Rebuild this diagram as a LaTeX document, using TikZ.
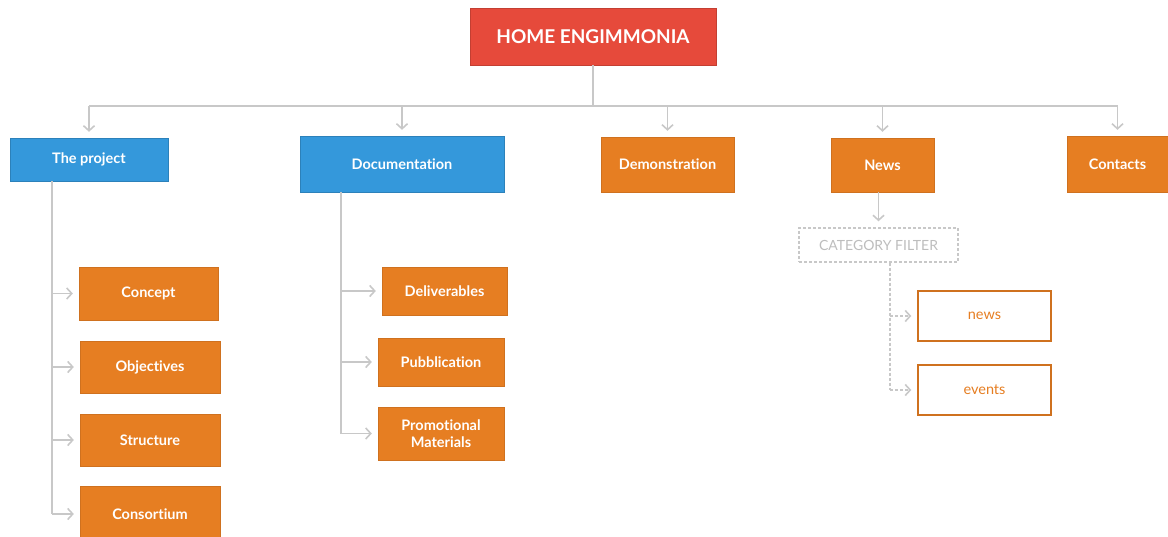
\documentclass[tikz,border=0pt]{standalone}
\usepackage{fontspec}
\setmainfont{Lato}[Ligatures=NoCommon]
\usetikzlibrary{arrows.meta}

\definecolor{homered}{HTML}{E64A3B}
\definecolor{pageblue}{HTML}{3498DB}
\definecolor{pageorange}{HTML}{E67E22}
\definecolor{linegray}{HTML}{C8C8C8}
\definecolor{filtergray}{HTML}{BDBDBD}

\begin{document}
\begin{tikzpicture}[x=1pt, y=-1pt,
    line/.style={draw=linegray, line width=1.6pt},
    link/.style={line, -{Straight Barb[length=5pt,width=11pt]}, shorten >=6pt},
    dashlink/.style={link, dashed, dash pattern=on 3pt off 2pt},
    box/.style={inner sep=0pt, align=center, text=white,
      font=\bfseries\fontsize{14.5}{16.5}\selectfont},
    bluebox/.style={box, fill=pageblue, draw=pageblue!85!black},
    orangebox/.style={box, fill=pageorange, draw=pageorange!90!black},
    outlinebox/.style={box, fill=white, draw=pageorange!90!black, line width=1.4pt,
      text=pageorange, font=\fontsize{14.5}{16.5}\selectfont}]

  \useasboundingbox (0,0) rectangle (1168,537);

  % Home page
  \node[box, fill=homered, draw=homered!85!black, minimum width=246pt, minimum height=57pt,
    font=\bfseries\fontsize{19}{22}\selectfont] (home) at (593,36.5) {HOME ENGIMMONIA};

  % Main menu
  \node[bluebox, minimum width=158pt, minimum height=43pt] (project) at (89,159.5) {The project};
  \node[bluebox, minimum width=204pt, minimum height=56pt] (docs) at (402,164) {Documentation};
  \node[orangebox, minimum width=133pt, minimum height=55pt] (demo) at (667.5,164.5) {Demonstration};
  \node[orangebox, minimum width=103pt, minimum height=54pt] (news) at (882.5,165) {News};
  \node[orangebox, minimum width=101pt, minimum height=56pt] (contacts) at (1117.5,164) {Contacts};

  \coordinate (bus) at (593,106);
  \draw[line] (home.south) -- (bus);
  \draw[line] (project.north |- bus) -- (contacts.north |- bus);
  \foreach \n in {project,docs,demo,news,contacts}
    \draw[link] (\n.north |- bus) -- (\n.north);

  % The project pages
  \node[orangebox, minimum width=139pt, minimum height=53pt] (concept) at (148.5,293.5) {Concept};
  \node[orangebox, minimum width=140pt, minimum height=52pt] (objectives) at (150,367) {Objectives};
  \node[orangebox, minimum width=140pt, minimum height=52pt] (structure) at (150,440) {Structure};
  \node[orangebox, minimum width=140pt, minimum height=56pt] (consortium) at (150,514) {Consortium};

  \coordinate (ptrunk) at (52,0);
  \draw[line] (project.south -| ptrunk) -- (consortium.west -| ptrunk);
  \foreach \n in {concept,objectives,structure,consortium}
    \draw[link] (\n.west -| ptrunk) -- (\n.west);

  % Documentation pages
  \node[orangebox, minimum width=125pt, minimum height=48pt] (deliv) at (444.5,291) {Deliverables};
  \node[orangebox, minimum width=126pt, minimum height=48pt] (pubb) at (441,362) {Pubblication};
  \node[orangebox, minimum width=126pt, minimum height=53pt] (promo) at (441,433.5) {Promotional\\Materials};

  \coordinate (dtrunk) at (341,0);
  \draw[line] (docs.south -| dtrunk) -- (promo.west -| dtrunk);
  \foreach \n in {deliv,pubb,promo}
    \draw[link] (\n.west -| dtrunk) -- (\n.west);

  % News filter
  \node[box, draw=linegray, line width=1.4pt, dash pattern=on 3pt off 2pt, text=filtergray,
    font=\fontsize{14}{16}\selectfont, minimum width=159pt, minimum height=34pt]
    (filter) at (878.5,245) {CATEGORY FILTER};
  \draw[link] (news.south -| filter.north) -- (filter.north);

  \node[outlinebox, minimum width=133pt, minimum height=50pt] (newsitem) at (984.5,316) {news};
  \node[outlinebox, minimum width=133pt, minimum height=50pt] (events) at (984.5,390) {events};

  \coordinate (ftrunk) at (890,0);
  \draw[line, dash pattern=on 3pt off 2pt] (filter.south -| ftrunk) -- (events.west -| ftrunk);
  \foreach \n in {newsitem,events}
    \draw[dashlink] (\n.west -| ftrunk) -- (\n.west);
\end{tikzpicture}
\end{document}
